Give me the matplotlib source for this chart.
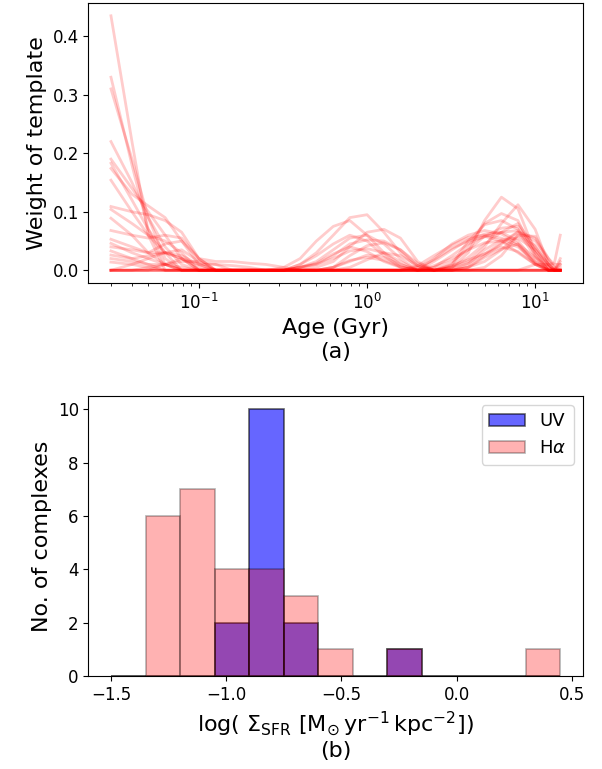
import numpy as np
import matplotlib.pyplot as plt
from matplotlib.ticker import MultipleLocator

# template ages (Gyr)
ages = [0.03, 0.04, 0.05, 0.063, 0.079, 0.1, 0.126, 0.158, 0.2, 0.25,
        0.32, 0.4, 0.5, 0.63, 0.79, 1.0, 1.26, 1.58, 2.0, 2.5,
        3.2, 4.0, 5.0, 6.3, 7.9, 10.0, 12.0, 13.0, 14.1]

# weights of templates, one row per complex
w01 = [.435, .22, .06, 0, 0, 0,   0, 0, 0, 0, 0, 0,   0, 0, 0, 0, 0, 0,   0, 0, .005, .03, .085, .125,   .105, .03, .005, 0, 0]
w02 = [.33, .18, .07, .01, 0, 0,   0, 0, 0, 0, .005, .02,   .05, .075, .085, .06, .03, .01,   0, .02, .045, .06, .068, .062,   .045, .012, 0, 0, 0]
w03 = [.31, .19, .09, .02, 0, 0,   0, 0, 0, 0, 0, 0,   0, 0, 0, 0, 0, 0,   0, 0, .005, .015, .04, .08,   .112, .07, .01, 0, 0]
w04 = [.22, .15, .09, .04, .01, 0,   0, 0, 0, 0, 0, .01,   .03, .06, .09, .095, .065, .03,   .005, 0, 0, 0, 0, 0,   0, 0, 0, 0, 0]
w05 = [.19, .14, .10, .06, .02, 0,   0, 0, 0, 0, 0, 0,   0, 0, 0, 0, 0, 0,   0, 0, .01, .04, .08, .097,   .085, .025, 0, 0, 0]
w06 = [.183, .12, .07, .03, 0, 0,   0, 0, 0, 0, 0, 0,   .005, .015, .04, .065, .07, .055,   .015, 0, 0, 0, 0, 0,   0, 0, 0, 0, 0]
w07 = [.174, .13, .11, .09, .05, .01,   0, 0, 0, 0, 0, 0,   0, 0, 0, 0, 0, 0,   0, .015, .035, .052, .062, .065,   .05, .015, 0, 0, 0]
w08 = [.154, .10, .06, .03, .02, 0,   0, 0, 0, 0, 0, .005,   .015, .035, .055, .06, .045, .02,   0, 0, 0, 0, 0, 0,   0, 0, 0, 0, 0]
w09 = [.109, .10, .095, .085, .065, .02,   .015, .015, .012, .01, .005, 0,   0, 0, 0, 0, 0, 0,   0, 0, .01, .05, .078, .085,   .07, .03, 0, 0, 0]
w10 = [.104, .08, .06, .05, .03, 0,   0, 0, 0, 0, 0, .01,   .025, .045, .06, .05, .025, .005,   0, 0, 0, .005, .025, .045,   .065, .05, .02, .01, .01]
w11 = [.089, .06, .03, .01, 0, 0,   0, 0, 0, 0, 0, 0,   0, 0, 0, 0, 0, 0,   0, .005, .015, .035, .058, .072,   .075, .035, .005, 0, 0]
w12 = [.068, .06, .055, .06, .055, .02,   0, 0, 0, 0, 0, 0,   0, .005, .025, .042, .047, .035,   .012, 0, 0, 0, 0, 0,   0, 0, 0, 0, 0]
w13 = [.053, .04, .03, .045, .05, .02,   0, 0, 0, 0, 0, 0,   0, 0, 0, 0, 0, 0,   0, 0, .005, .022, .045, .065,   .08, .04, .01, 0, 0]
w14 = [.046, .03, .02, .01, 0, 0,   0, 0, 0, 0, 0, .005,   .01, .02, .033, .037, .03, .015,   0, 0, 0, 0, 0, 0,   0, .01, .01, .012, .06]
w15 = [.04, .035, .03, .03, .025, .01,   .01, .008, .005, 0, 0, 0,   0, 0, 0, 0, 0, 0,   0, .005, .025, .045, .058, .05,   .03, .01, 0, 0, 0]
w16 = [.033, .02, .01, 0, 0, 0,   0, 0, 0, 0, 0, 0,   0, .005, .015, .026, .022, .01,   0, 0, 0, .01, .035, .052,   .055, .035, .01, 0, 0]
w17 = [.026, .02, .025, .03, .02, .005,   0, 0, 0, 0, 0, .005,   .012, .028, .04, .032, .015, .005,   0, 0, 0, 0, 0, 0,   0, 0, 0, 0, .015]
w18 = [.02, .015, .01, .01, .015, .015,   .01, 0, 0, 0, 0, 0,   0, 0, 0, 0, 0, 0,   0, .008, .02, .035, .047, .05,   .04, .015, 0, 0, 0]
w19 = [.014, .01, .005, 0, 0, 0,   0, 0, 0, 0, 0, 0,   0, 0, 0, 0, 0, 0,   0, 0, 0, .005, .015, .035,   .06, .058, .02, .005, 0]
w20 = [0, .01, .02, .03, .035, .015,   0, 0, 0, 0, 0, .005,   .01, .025, .045, .052, .05, .035,   .008, 0, 0, 0, 0, 0,   0, 0, 0, 0, .02]
w21 = [0, 0, 0, .01, .02, .01,   0, 0, 0, 0, 0, 0,   0, 0, 0, 0, 0, 0,   .005, .018, .038, .05, .057, .065,   .068, .022, 0, 0, 0]
w22 = [0, 0, 0, 0, 0, 0,   0, 0, 0, 0, 0, 0,   0, 0, .005, .018, .03, .025,   .008, 0, 0, .005, .022, .036,   .045, .022, .005, 0, .01]
w23 = [0, 0, .005, .01, .005, 0,   0, 0, 0, 0, 0, 0,   0, .005, .017, .022, .017, .006,   0, 0, .008, .018, .028, .04,   .032, .01, 0, 0, 0]
w24 = [0, 0, 0, 0, 0, 0,   0, 0, 0, 0, 0, 0,   0, 0, 0, 0, 0, 0,   .008, .025, .043, .056, .06, .055,   .043, .01, 0, 0, 0]
w25 = [0, 0, 0, 0, 0, 0,   0, 0, 0, 0, 0, 0,   0, 0, 0, 0, 0, 0,   0, 0, 0, 0, .005, .025,   .06, .042, .01, 0, 0]
w26 = [0, 0, 0, 0, 0, 0,   0, 0, 0, 0, 0, 0,   0, 0, 0, 0, 0, 0,   0, 0, .003, .012, .028, .047,   .066, .055, .015, .005, .005]
weights = [w01, w02, w03, w04, w05, w06, w07, w08, w09, w10, w11, w12, w13,
           w14, w15, w16, w17, w18, w19, w20, w21, w22, w23, w24, w25, w26]

# histogram of log Sigma_SFR
bin_edges = [-1.5, -1.35, -1.2, -1.05, -0.9, -0.75, -0.6, -0.45, -0.3,
             -0.15, 0.0, 0.15, 0.3, 0.45]
uv_counts = [0, 0, 0, 2, 10, 2, 0, 0, 1, 0, 0, 0, 0]
ha_counts = [0, 6, 7, 4, 4, 3, 1, 0, 1, 0, 0, 0, 1]

fig = plt.figure(figsize=(6.02, 7.69), dpi=100)
ax1 = fig.add_axes([0.147, 0.632, 0.821, 0.364])
ax2 = fig.add_axes([0.147, 0.121, 0.821, 0.364])

for w in weights:
    ax1.plot(ages, w, color='red', alpha=0.2, lw=2)
ax1.set_xscale('log')
ax1.set_xlabel('Age (Gyr)\n(a)', fontsize=16)
ax1.set_ylabel('Weight of template', fontsize=16)
ax1.tick_params(labelsize=12)

edges = np.array(bin_edges)
centers = 0.5 * (edges[:-1] + edges[1:])
ax2.hist(centers, bins=edges, weights=uv_counts, color='blue', alpha=0.6,
         edgecolor='k', lw=1.2, label='UV')
ax2.hist(centers, bins=edges, weights=ha_counts, color='red', alpha=0.3,
         edgecolor='k', lw=1.2, label=r'H$\alpha$')
ax2.xaxis.set_major_locator(MultipleLocator(0.5))
ax2.set_xlabel(r'log( $\Sigma_{\rm SFR}$ [M$_{\odot}\,$yr$^{-1}\,$kpc$^{-2}$])' + '\n(b)',
               fontsize=16)
ax2.set_ylabel('No. of complexes', fontsize=16)
ax2.tick_params(labelsize=12)
ax2.legend(loc='upper right', fontsize=13)

fig.savefig('out.png', dpi=100)
